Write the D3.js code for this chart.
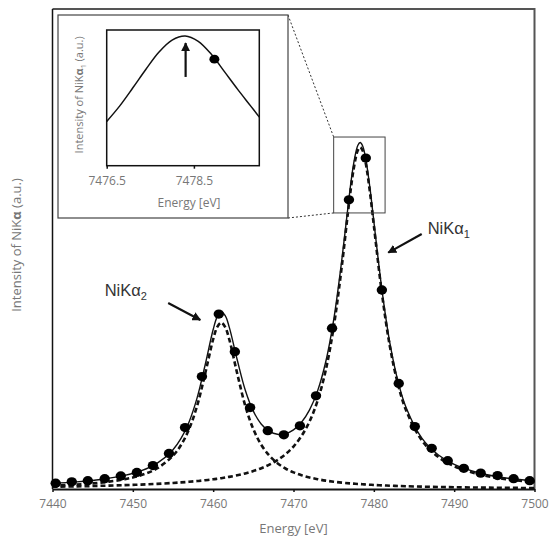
<!DOCTYPE html>
<html>
<head>
<meta charset="utf-8">
<script src="https://cdn.jsdelivr.net/npm/d3@7"></script>
<style>
	body { margin: 0; background: #fff; }
	svg { display: block; font-family: "Open Sans", sans-serif; }
	.axisText { fill: #777; }
	.note { font-family: "Liberation Sans", Arial, sans-serif; fill: #333; }
</style>
</head>
<body>
<div id="chart"></div>
<script>
//tick labels
const energyTicks = [7440, 7450, 7460, 7470, 7480, 7490, 7500];
const insetTicks = [7476.5, 7478.5];

//measured points (dots)
const dotEnergy = [7440.4, 7442.4, 7444.4, 7446.5, 7448.5, 7450.5, 7452.5, 7454.5, 7456.5, 7458.6,
	7460.7, 7462.7, 7464.6, 7466.8, 7468.8, 7470.8, 7472.8, 7474.8, 7476.9, 7479.0,
	7481.0, 7483.1, 7485.1, 7487.2, 7489.2, 7491.2, 7493.3, 7495.4, 7497.4, 7499.4];
const dotIntensity = [1.7, 2.1, 2.4, 3.0, 3.8, 4.8, 6.8, 10.3, 17.8, 32.6,
	50.7, 39.8, 23.6, 16.9, 15.7, 18.3, 27.0, 46.6, 83.8, 95.9,
	57.7, 30.6, 18.1, 11.8, 8.2, 6.0, 4.6, 3.9, 3.0, 2.4];

//fitted curves
const fitEnergy = [7440, 7443, 7446, 7449, 7451, 7453, 7455, 7456, 7457, 7458, 7459, 7460, 7460.5, 7461, 7461.5,
	7462, 7463, 7464, 7465, 7466, 7467, 7468, 7469, 7470, 7471, 7472, 7473, 7474, 7475, 7476, 7477, 7477.5,
	7478, 7478.3, 7478.6, 7479, 7479.5, 7480, 7481, 7482, 7483, 7484, 7486, 7488, 7490, 7493, 7496, 7500];
const fitTotal = [1.62, 2.07, 2.77, 3.96, 5.26, 7.43, 11.4, 14.66, 19.44, 26.4, 35.94, 46.21, 49.87, 51.34, 50.22,
	46.92, 37.38, 28.62, 22.55, 18.78, 16.7, 15.86, 16.01, 17.12, 19.35, 22.94, 28.44, 36.73, 49.01, 66.15, 86.14, 94.45,
	99.56, 100.42, 99.48, 95.6, 87.54, 77.57, 57.86, 42.26, 31.28, 23.71, 14.68, 9.93, 7.12, 4.72, 3.35, 2.3];
const fitKa1 = [0.66, 0.77, 0.92, 1.12, 1.28, 1.49, 1.76, 1.91, 2.09, 2.3, 2.54, 2.81, 2.97, 3.14, 3.32,
	3.52, 3.98, 4.52, 5.2, 6.03, 7.06, 8.38, 10.07, 12.3, 15.37, 19.6, 25.6, 34.3, 46.9, 64.3, 84.5, 92.9,
	98.1, 99, 98.1, 94.3, 86.3, 76.4, 56.8, 41.3, 30.4, 22.9, 14.0, 9.34, 6.61, 4.3, 3.0, 2.02];
const fitKa2 = [0.96, 1.3, 1.85, 2.84, 3.98, 5.94, 9.64, 12.75, 17.35, 24.1, 33.4, 43.4, 46.9, 48.2, 46.9,
	43.4, 33.4, 24.1, 17.35, 12.75, 9.64, 7.48, 5.94, 4.82, 3.98, 3.34, 2.84, 2.43, 2.11, 1.85, 1.64, 1.55,
	1.46, 1.42, 1.38, 1.3, 1.24, 1.17, 1.06, 0.96, 0.88, 0.81, 0.68, 0.59, 0.51, 0.42, 0.35, 0.28];

//inset (zoom on the NiKa1 top), relative intensity
const insetEnergy = [7476.5, 7476.8, 7477.1, 7477.4, 7477.7, 7478.0, 7478.3, 7478.6, 7478.9, 7479.2, 7479.5, 7479.8, 7480.0];
const insetIntensity = [0.326, 0.441, 0.574, 0.711, 0.838, 0.926, 0.956, 0.917, 0.821, 0.693, 0.564, 0.441, 0.358];
const insetDotEnergy = [7478.97];
const insetDotIntensity = [0.785];

//zoomed region in the main plot
const zoomEnergy = [7475.0, 7481.4];
const zoomIntensity = [80, 102];

const width = 559, height = 539;
const plot = {left: 52.5, right: 534.5, top: 9, bottom: 489};
const inset = {left: 106.7, right: 259.3, top: 30, bottom: 165.7};
const insetBox = {left: 58, right: 288, top: 15, bottom: 218};

var svg = d3.select("#chart").append("svg")
	.attr("width", width)
	.attr("height", height);

var defs = svg.append("defs");
defs.append("marker")
	.attr("id", "head")
	.attr("viewBox", "0 0 10 10")
	.attr("refX", 9).attr("refY", 5)
	.attr("markerWidth", 4).attr("markerHeight", 4)
	.attr("markerUnits", "strokeWidth")
	.attr("orient", "auto")
	.append("path").attr("d", "M0,0 L10,5 L0,10 z").attr("fill", "#111");

var x = d3.scaleLinear().domain([7440, 7500]).range([plot.left, plot.right]);
var y = d3.scaleLinear().domain([0, 139.1]).range([plot.bottom, plot.top]);

var xi = d3.scaleLinear().domain([7476.5, 7480.0]).range([inset.left, inset.right]);
var yi = d3.scaleLinear().domain([0, 1]).range([inset.bottom, inset.top]);

function drawMain() {
	//frame: top and right are gray
	svg.append("path")
		.attr("d", "M" + plot.left + "," + plot.top + " H" + plot.right + " V" + plot.bottom)
		.attr("fill", "none").attr("stroke", "#555").attr("stroke-width", 2);
	svg.append("line")
		.attr("x1", plot.left).attr("x2", plot.left)
		.attr("y1", plot.top).attr("y2", plot.bottom)
		.attr("stroke", "#111").attr("stroke-width", 1.5);

	var xAxis = svg.append("g")
		.attr("transform", "translate(0," + plot.bottom + ")")
		.call(d3.axisBottom(x).tickValues(energyTicks).tickSize(3).tickPadding(7).tickSizeOuter(0).tickFormat(d3.format("d")));
	xAxis.select(".domain").attr("stroke", "#111").attr("stroke-width", 2);
	xAxis.selectAll(".tick line").attr("stroke", "#111").attr("stroke-width", 1.5);
	xAxis.selectAll(".tick text")
		.attr("class", "axisText")
		.style("font-family", "'Open Sans', sans-serif")
		.style("font-size", "12px");

	svg.append("text")
		.attr("class", "axisText")
		.attr("x", (plot.left + plot.right) / 2)
		.attr("y", 533)
		.attr("text-anchor", "middle")
		.style("font-size", "13px")
		.text("Energy [eV]");

	var yl = svg.append("text")
		.attr("class", "axisText")
		.attr("transform", "translate(21," + ((plot.top + plot.bottom) / 2 - 4) + ") rotate(-90)")
		.attr("text-anchor", "middle")
		.style("font-size", "13px");
	yl.append("tspan").text("Intensity of NiK");
	yl.append("tspan").attr("font-weight", "bold").text("α");
	yl.append("tspan").text(" (a.u.)");

	var line = d3.line()
		.x(function(d) { return x(d[0]) })
		.y(function(d) { return y(d[1]) })
		.curve(d3.curveCatmullRom.alpha(0.5));

	//components (dashed)
	[fitKa1, fitKa2].forEach(function(series) {
		svg.append("path")
			.datum(d3.zip(fitEnergy, series))
			.attr("d", line)
			.attr("fill", "none")
			.attr("stroke", "#111")
			.attr("stroke-width", 2.6)
			.attr("stroke-dasharray", "5,3");
	});

	//total fit
	svg.append("path")
		.datum(d3.zip(fitEnergy, fitTotal))
		.attr("d", line)
		.attr("fill", "none")
		.attr("stroke", "#111")
		.attr("stroke-width", 1.4);

	svg.selectAll(".dot")
		.data(d3.zip(dotEnergy, dotIntensity))
		.enter()
		.append("ellipse")
		.attr("class", "dot")
		.attr("cx", function(d) { return x(d[0]) })
		.attr("cy", function(d) { return y(d[1]) })
		.attr("rx", 5.2).attr("ry", 4.6)
		.attr("fill", "#000");

	//zoom box
	svg.append("rect")
		.attr("x", x(zoomEnergy[0]))
		.attr("y", y(zoomIntensity[1]))
		.attr("width", x(zoomEnergy[1]) - x(zoomEnergy[0]))
		.attr("height", y(zoomIntensity[0]) - y(zoomIntensity[1]))
		.attr("fill", "none").attr("stroke", "#444").attr("stroke-width", 1);

	//annotations
	svg.append("line")
		.attr("x1", x(7485.96)).attr("y1", y(73.9))
		.attr("x2", x(7481.8)).attr("y2", y(68.5))
		.attr("stroke", "#111").attr("stroke-width", 2.2)
		.attr("marker-end", "url(#head)");
	var t1 = svg.append("text").attr("class", "note")
		.attr("x", x(7486.7)).attr("y", y(73.9))
		.style("font-size", "16.5px");
	t1.append("tspan").text("NiKα");
	t1.append("tspan").attr("dy", 4).style("font-size", "11px").text("1");

	svg.append("line")
		.attr("x1", x(7454.4)).attr("y1", y(53.9))
		.attr("x2", x(7458.4)).attr("y2", y(49.0))
		.attr("stroke", "#111").attr("stroke-width", 2.2)
		.attr("marker-end", "url(#head)");
	var t2 = svg.append("text").attr("class", "note")
		.attr("x", x(7446.5)).attr("y", y(55.9))
		.style("font-size", "16.5px");
	t2.append("tspan").text("NiKα");
	t2.append("tspan").attr("dy", 4).style("font-size", "11px").text("2");
}

function drawInset() {
	//connector lines (dotted)
	svg.append("line")
		.attr("x1", insetBox.right).attr("y1", insetBox.top)
		.attr("x2", x(zoomEnergy[0])).attr("y2", y(zoomIntensity[1]))
		.attr("stroke", "#333").attr("stroke-width", 1).attr("stroke-dasharray", "2,2");
	svg.append("line")
		.attr("x1", insetBox.right).attr("y1", insetBox.bottom)
		.attr("x2", x(zoomEnergy[0])).attr("y2", y(zoomIntensity[0]))
		.attr("stroke", "#333").attr("stroke-width", 1).attr("stroke-dasharray", "2,2");

	svg.append("rect")
		.attr("x", insetBox.left).attr("y", insetBox.top)
		.attr("width", insetBox.right - insetBox.left)
		.attr("height", insetBox.bottom - insetBox.top)
		.attr("fill", "#fff").attr("stroke", "#444").attr("stroke-width", 1.2);

	svg.append("rect")
		.attr("x", inset.left).attr("y", inset.top)
		.attr("width", inset.right - inset.left)
		.attr("height", inset.bottom - inset.top)
		.attr("fill", "none").attr("stroke", "#111").attr("stroke-width", 1.5);

	var ax = svg.append("g")
		.attr("transform", "translate(0," + inset.bottom + ")")
		.call(d3.axisBottom(xi).tickValues(insetTicks).tickSize(3).tickPadding(8).tickSizeOuter(0).tickFormat(d3.format(".1f")));
	ax.select(".domain").remove();
	ax.selectAll(".tick line").attr("stroke", "#111").attr("stroke-width", 1.5);
	ax.selectAll(".tick text")
		.attr("class", "axisText")
		.style("font-family", "'Open Sans', sans-serif")
		.style("font-size", "12px");

	svg.append("text")
		.attr("class", "axisText")
		.attr("x", (inset.left + inset.right) / 2 + 6)
		.attr("y", 207)
		.attr("text-anchor", "middle")
		.style("font-size", "12px")
		.text("Energy [eV]");

	var yl = svg.append("text")
		.attr("class", "axisText")
		.attr("transform", "translate(83," + ((inset.top + inset.bottom) / 2 - 3) + ") rotate(-90)")
		.attr("text-anchor", "middle")
		.style("font-size", "11px");
	yl.append("tspan").text("Intensity of NiK");
	yl.append("tspan").attr("font-weight", "bold").text("α");
	yl.append("tspan").attr("dy", 3).style("font-size", "7px").text("1");
	yl.append("tspan").attr("dy", -3).text(" (a.u.)");

	svg.append("path")
		.datum(d3.zip(insetEnergy, insetIntensity))
		.attr("d", d3.line()
			.x(function(d) { return xi(d[0]) })
			.y(function(d) { return yi(d[1]) })
			.curve(d3.curveCatmullRom.alpha(0.5)))
		.attr("fill", "none").attr("stroke", "#111").attr("stroke-width", 1.5);

	svg.selectAll(".idot")
		.data(d3.zip(insetDotEnergy, insetDotIntensity))
		.enter()
		.append("ellipse")
		.attr("class", "idot")
		.attr("cx", function(d) { return xi(d[0]) })
		.attr("cy", function(d) { return yi(d[1]) })
		.attr("rx", 5).attr("ry", 4.4)
		.attr("fill", "#000");

	//arrow pointing at the top
	svg.append("line")
		.attr("x1", xi(7478.31)).attr("y1", yi(0.654))
		.attr("x2", xi(7478.31)).attr("y2", yi(0.904))
		.attr("stroke", "#111").attr("stroke-width", 2.2)
		.attr("marker-end", "url(#head)");
}

drawMain();
drawInset();
</script>
</body>
</html>
